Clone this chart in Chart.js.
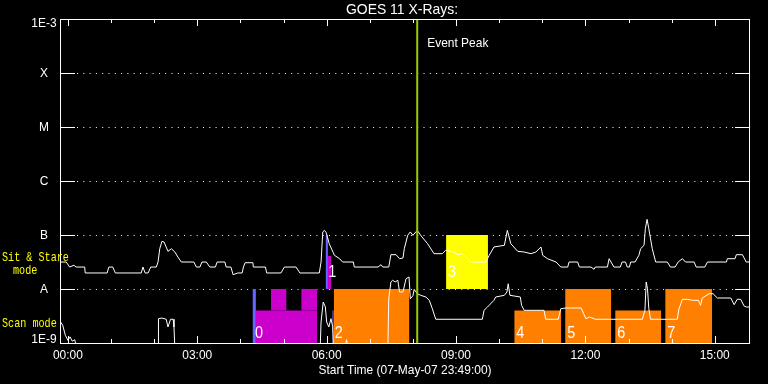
<!DOCTYPE html>
<html>
<head>
<meta charset="utf-8">
<script src="https://cdn.jsdelivr.net/npm/chart.js@4"></script>
<style>
  body { margin: 0; background: #000; }
  canvas { display: block; background: #000; }
</style>
</head>
<body>
<canvas id="myChart" width="768" height="384"></canvas>
<script>
// hours after 00:00 (start time 23:49), flux in W/m^2
var upperCurve = [
  [-0.16,3.16e-8],[-0.04,3.16e-8],[0.04,2.55e-8],[0.14,2.75e-8],[0.19,2.55e-8],[0.39,2.55e-8],[0.40,1.98e-8],
  [0.91,1.98e-8],[0.95,2.55e-8],[1.04,2.55e-8],[1.10,1.98e-8],[1.70,1.98e-8],[1.74,2.55e-8],[1.79,1.98e-8],
  [1.86,1.98e-8],[1.92,2.55e-8],[2.05,2.55e-8],[2.09,3.16e-8],[2.13,5.57e-8],[2.18,7.64e-8],[2.23,7.42e-8],
  [2.32,4.99e-8],[2.40,5.57e-8],[2.48,4.84e-8],[2.55,3.91e-8],[2.63,3.16e-8],[2.92,3.16e-8],[2.98,2.55e-8],
  [3.06,2.55e-8],[3.11,3.16e-8],[3.21,3.16e-8],[3.29,2.55e-8],[3.42,2.55e-8],[3.46,3.16e-8],[3.64,3.16e-8],
  [3.67,2.55e-8],[3.78,2.55e-8],[3.83,1.84e-8],[3.94,1.98e-8],[4.04,1.98e-8],[4.07,2.55e-8],[4.11,3.07e-8],
  [4.29,3.07e-8],[4.30,2.55e-8],[4.58,2.55e-8],[4.61,1.98e-8],[4.94,1.98e-8],[5.02,2.55e-8],[5.29,2.55e-8],
  [5.38,1.98e-8],[5.83,1.98e-8],[5.87,3.16e-8],[5.91,1.14e-7],[5.95,1.22e-7],[5.99,1.10e-7],[6.06,6.90e-8],
  [6.18,4.21e-8],[6.30,3.64e-8],[6.37,3.16e-8],[6.62,3.16e-8],[6.64,2.55e-8],[7.19,2.55e-8],[7.26,2.82e-8],
  [7.30,2.55e-8],[7.44,2.55e-8],[7.49,4.32e-8],[7.61,4.32e-8],[7.69,3.64e-8],[7.77,3.75e-8],[7.80,5.57e-8],
  [7.88,9.87e-8],[7.94,1.14e-7],[8.00,9.87e-8],[8.07,1.14e-7],[8.10,1.22e-7],[8.18,9.87e-8],[8.34,6.90e-8],
  [8.49,4.51e-8],[8.68,4.51e-8],[8.76,5.21e-8],[8.96,4.84e-8],[9.03,4.32e-8],[9.15,4.51e-8],[9.23,3.91e-8],
  [9.34,3.16e-8],[9.69,3.16e-8],[9.77,4.21e-8],[9.88,6.00e-8],[10.12,6.44e-8],[10.19,1.22e-7],[10.27,6.90e-8],
  [10.43,4.99e-8],[10.58,4.84e-8],[10.74,4.51e-8],[10.85,4.84e-8],[10.97,6.00e-8],[11.01,4.21e-8],[11.12,3.64e-8],
  [11.32,3.16e-8],[11.43,2.55e-8],[11.59,2.55e-8],[11.62,3.16e-8],[11.82,3.16e-8],[11.86,2.55e-8],[12.13,2.55e-8],
  [12.20,2.32e-8],[12.23,2.55e-8],[12.51,2.55e-8],[12.55,3.64e-8],[12.66,2.55e-8],[12.81,2.55e-8],[12.85,3.16e-8],
  [12.93,3.16e-8],[12.97,2.55e-8],[13.02,2.55e-8],[13.05,3.16e-8],[13.15,3.16e-8],[13.24,4.21e-8],[13.28,5.57e-8],
  [13.36,6.44e-8],[13.39,1.31e-7],[13.43,1.95e-7],[13.47,1.31e-7],[13.55,5.57e-8],[13.63,3.16e-8],[13.90,3.16e-8],
  [13.97,2.55e-8],[14.08,2.55e-8],[14.15,3.16e-8],[14.25,3.64e-8],[14.32,3.16e-8],[14.52,3.16e-8],[14.57,2.55e-8],
  [14.77,2.55e-8],[14.83,3.16e-8],[15.27,3.16e-8],[15.29,3.64e-8],[15.47,3.64e-8],[15.50,4.32e-8],[15.64,4.32e-8],
  [15.73,3.16e-8],[15.83,3.16e-8]
];

var lowerCurve = [
  [-0.17,2.45e-9],[-0.12,2.13e-9],[-0.06,1.39e-9],[0.00,1.12e-9],[0.05,1.30e-9],[0.10,1.08e-9],[0.16,1.15e-9],
  [0.20,8e-10],[2.09,8e-10],[2.10,2.82e-9],[2.18,2.90e-9],[2.28,2.75e-9],[2.32,1.98e-9],[2.38,2.75e-9],
  [2.44,2.75e-9],[2.46,1.98e-9],[2.48,8e-10],[5.85,8e-10],[5.87,2.45e-9],[5.92,5.74e-9],[5.97,4.64e-9],
  [6.00,2.45e-9],[6.05,1.98e-9],[6.10,2.82e-9],[6.14,2.0e-9],[6.16,8e-10],[6.43,8e-10],[6.46,1.15e-9],
  [6.50,8e-10],[7.42,8e-10],[7.44,6.61e-9],[7.49,1.35e-8],[7.53,1.45e-8],[7.59,1.35e-8],[7.65,1.45e-8],
  [7.69,8.8e-9],[7.77,8.8e-9],[7.84,1.55e-8],[7.91,1.67e-8],[7.94,6.61e-9],[8.00,7.5e-9],[8.03,9.87e-9],
  [8.10,8.18e-9],[8.18,7.64e-9],[8.30,7.11e-9],[8.38,6.18e-9],[8.45,4.32e-9],[8.53,2.75e-9],[9.61,2.75e-9],
  [9.65,4.03e-9],[9.73,4.64e-9],[9.88,6.18e-9],[9.92,7.11e-9],[10.12,7.64e-9],[10.18,8.8e-9],[10.21,1.25e-8],
  [10.25,7.64e-9],[10.49,7.11e-9],[10.52,4.99e-9],[10.58,4.03e-9],[11.04,4.03e-9],[11.08,2.75e-9],[11.37,2.75e-9],
  [11.43,4.32e-9],[11.55,4.45e-9],[11.90,4.45e-9],[11.96,3.49e-9],[12.01,2.82e-9],[12.09,3.03e-9],[12.20,2.82e-9],
  [12.23,2.75e-9],[13.32,2.75e-9],[13.38,4.03e-9],[13.41,1.35e-8],[13.44,1.01e-8],[13.47,4.32e-9],[13.51,2.75e-9],
  [14.13,2.75e-9],[14.17,4.32e-9],[14.25,6.44e-9],[14.36,6.44e-9],[14.48,6.18e-9],[14.62,6.18e-9],[14.67,4.99e-9],
  [14.71,6.81e-9],[14.87,8.18e-9],[14.96,8.18e-9],[15.06,6.81e-9],[15.37,6.81e-9],[15.45,5.12e-9],[15.52,6.44e-9],
  [15.60,6.44e-9],[15.68,4.84e-9],[15.73,4.64e-9],[15.83,4.64e-9]
];

// observation blocks
var boxStart = [4.28, 4.36, 4.71, 5.41, 5.975, 6.03, 6.13, 6.165, 8.77, 10.35, 11.53, 12.69, 13.85];
var boxEnd   = [4.36, 5.78, 5.07, 5.78, 6.03, 6.11, 6.165, 7.92, 9.74, 11.44, 12.60, 13.76, 14.94];
var boxLow   = [1e-9, 1e-9, 4e-9, 4e-9, 1e-8, 1e-8, 1e-9, 1e-9, 1e-8, 1e-9, 1e-9, 1e-9, 1e-9];
var boxHigh  = [1e-8, 4e-9, 1e-8, 1e-8, 1e-7, 4.1e-8, 4e-9, 1e-8, 1e-7, 4e-9, 1e-8, 4e-9, 1e-8];
var boxColors = ["#6464ff", "#cc00cc", "#cc00cc", "#cc00cc", "#6464ff", "#cc00cc", "#6464ff",
                 "#ff8000", "#ffff00", "#ff8000", "#ff8000", "#ff8000", "#ff8000"];

var obsLabels = ["0", "1", "2", "3", "4", "5", "6", "7"];
var obsStart  = [4.29, 5.99, 6.14, 8.77, 10.35, 11.53, 12.69, 13.85];
var obsFlux   = [1.14e-9, 1.53e-8, 1.14e-9, 1.53e-8, 1.14e-9, 1.14e-9, 1.14e-9, 1.14e-9];

var eventPeak = 8.1;

var yTickValues = [1e-9, 1e-8, 1e-7, 1e-6, 1e-5, 1e-4, 1e-3];
var yTickLabels = ["1E-9", "A", "B", "C", "M", "X", "1E-3"];
var xTickValues = [0, 3, 6, 9, 12, 15];
var xTickLabels = ["00:00", "03:00", "06:00", "09:00", "12:00", "15:00"];
var xMin = -11 / 60, xMax = 16 - 11 / 60;

function toPoints(arr) {
  return arr.map(function (p) { return { x: p[0], y: p[1] }; });
}

var datasets = [];
datasets.push({
  data: [{ x: eventPeak, y: 1e-3 }, { x: eventPeak, y: 1e-9 }],
  borderColor: "#99cc00", borderWidth: 2, order: 0
});
datasets.push({ data: toPoints(upperCurve), borderColor: "#fff", borderWidth: 1, order: 1 });
datasets.push({ data: toPoints(lowerCurve), borderColor: "#fff", borderWidth: 1, order: 1 });
boxStart.forEach(function (s, i) {
  datasets.push({
    data: [{ x: s, y: boxHigh[i] }, { x: boxEnd[i], y: boxHigh[i] }],
    borderColor: "transparent",
    backgroundColor: boxColors[i],
    fill: { value: boxLow[i] },
    order: 2
  });
});

var sans = "'Liberation Sans', sans-serif";
var mono = "'Liberation Mono', monospace";

// narrow, tall text like the IDL vector font
function txt(ctx, s, x, y, size, family, sx) {
  ctx.save();
  ctx.translate(x, y);
  ctx.scale(sx, 1);
  ctx.font = size + "px " + family;
  ctx.fillText(s, 0, 0);
  ctx.restore();
}

var decorations = {
  id: "decorations",
  beforeDatasetsDraw: function (chart) {
    var ctx = chart.ctx, a = chart.chartArea, y = chart.scales.y;
    ctx.save();
    ctx.strokeStyle = "#fff";
    ctx.lineWidth = 1;
    ctx.setLineDash([1, 5.3]);
    for (var i = 1; i < yTickValues.length - 1; i++) {
      var py = Math.round(y.getPixelForValue(yTickValues[i])) + 0.5;
      ctx.beginPath();
      ctx.moveTo(a.left + 17, py);
      ctx.lineTo(a.right - 15, py);
      ctx.stroke();
    }
    ctx.restore();
  },
  afterDatasetsDraw: function (chart) {
    var ctx = chart.ctx, a = chart.chartArea, x = chart.scales.x, y = chart.scales.y;
    ctx.save();
    ctx.strokeStyle = "#fff";
    ctx.fillStyle = "#fff";
    ctx.lineWidth = 1;
    ctx.strokeRect(a.left + 0.5, a.top + 0.5, a.right - a.left - 1, a.bottom - a.top);

    // y ticks both sides
    ctx.textAlign = "center";
    ctx.textBaseline = "middle";
    yTickValues.forEach(function (v, i) {
      var py = Math.round(y.getPixelForValue(v)) + 0.5;
      ctx.beginPath();
      ctx.moveTo(a.left, py); ctx.lineTo(a.left + 15, py);
      ctx.moveTo(a.right - 15, py); ctx.lineTo(a.right, py);
      ctx.stroke();
      var ly = py;
      if (i === 0) ly = py - 4;
      if (i === yTickValues.length - 1) ly = py + 4;
      txt(ctx, yTickLabels[i], 44, ly, 13, sans, 0.92);
    });

    // x ticks every hour, top and bottom
    for (var h = 0; h <= 15; h++) {
      var px = Math.round(x.getPixelForValue(h)) + 0.5;
      var len = h % 3 === 0 ? 7 : 4;
      ctx.beginPath();
      ctx.moveTo(px, a.top); ctx.lineTo(px, a.top + len);
      ctx.moveTo(px, a.bottom); ctx.lineTo(px, a.bottom - len);
      ctx.stroke();
    }
    xTickValues.forEach(function (v, i) {
      txt(ctx, xTickLabels[i], x.getPixelForValue(v), 355, 13, sans, 0.92);
    });
    txt(ctx, "Start Time (07-May-07 23:49:00)", (a.left + a.right) / 2, 370, 13, sans, 0.92);
    txt(ctx, "GOES 11 X-Rays:", (a.left + a.right) / 2 - 3, 10, 15, sans, 0.93);

    ctx.textAlign = "left";
    txt(ctx, "Event Peak", x.getPixelForValue(eventPeak) + 10, 43, 13, sans, 0.92);

    // observation numbers
    ctx.textBaseline = "bottom";
    obsLabels.forEach(function (t, i) {
      txt(ctx, t, x.getPixelForValue(obsStart[i]) + 2, y.getPixelForValue(obsFlux[i]) + 2, 16, sans, 0.9);
    });

    // mode labels
    ctx.fillStyle = "#ffff00";
    ctx.textBaseline = "middle";
    txt(ctx, "Sit & Stare", 2, 258, 13, mono, 0.78);
    txt(ctx, "mode", 13, 271, 13, mono, 0.78);
    txt(ctx, "Scan mode", 2, 324, 13, mono, 0.78);
    ctx.restore();
  }
};

new Chart(document.getElementById("myChart"), {
  type: "line",
  data: { datasets: datasets },
  options: {
    responsive: false,
    animation: false,
    devicePixelRatio: 1,
    layout: { padding: { left: 60, right: 18, top: 19, bottom: 41 } },
    elements: { point: { radius: 0 }, line: { tension: 0 } },
    scales: {
      x: { type: "linear", display: false, min: xMin, max: xMax, bounds: "data" },
      y: { type: "logarithmic", display: false, min: 1e-9, max: 1e-3, bounds: "data" }
    },
    plugins: { legend: { display: false }, tooltip: { enabled: false } }
  },
  plugins: [decorations]
});
</script>
</body>
</html>
